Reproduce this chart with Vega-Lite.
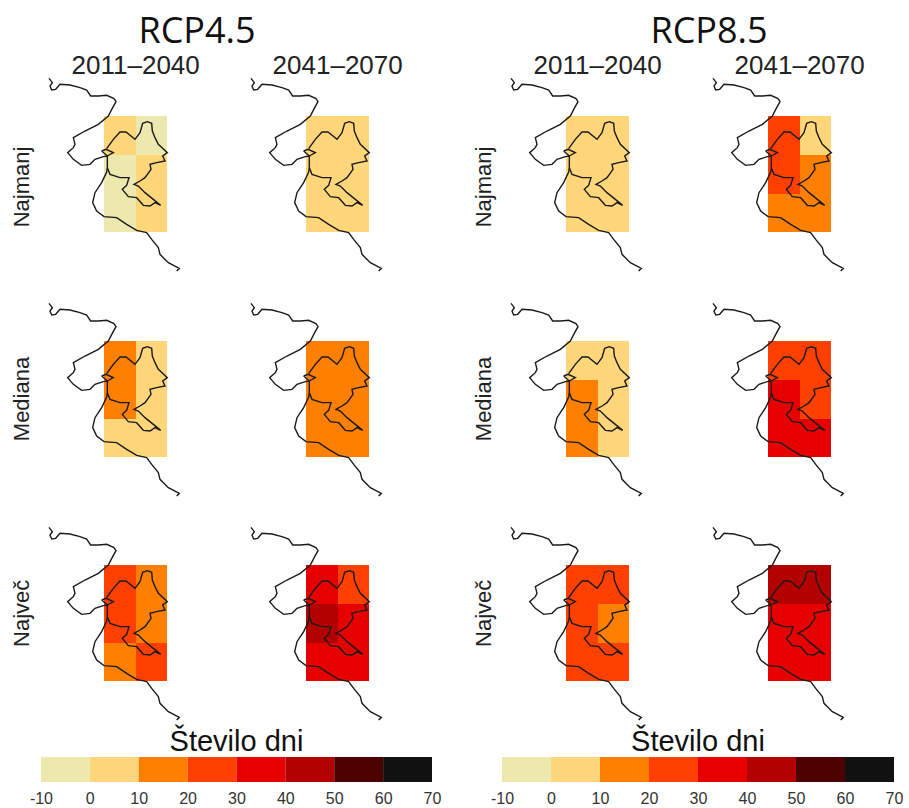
{"$schema":"https://vega.github.io/schema/vega-lite/v6.json","padding":{"left":8,"top":10,"right":0,"bottom":0},"background":"white","config":{"view":{"stroke":null}},"spacing":5,
"datasets":{
"cells":[
{"p":1,"x":312,"x2":408,"y":350,"y2":467,"days":5},{"p":1,"x":408,"x2":501,"y":350,"y2":467,"days":-5},{"p":1,"x":312,"x2":408,"y":467,"y2":584,"days":-5},{"p":1,"x":408,"x2":501,"y":467,"y2":584,"days":5},{"p":1,"x":312,"x2":408,"y":584,"y2":698,"days":-5},{"p":1,"x":408,"x2":501,"y":584,"y2":698,"days":5},
{"p":2,"x":312,"x2":408,"y":350,"y2":467,"days":5},{"p":2,"x":408,"x2":501,"y":350,"y2":467,"days":5},{"p":2,"x":312,"x2":408,"y":467,"y2":584,"days":5},{"p":2,"x":408,"x2":501,"y":467,"y2":584,"days":5},{"p":2,"x":312,"x2":408,"y":584,"y2":698,"days":5},{"p":2,"x":408,"x2":501,"y":584,"y2":698,"days":5},
{"p":3,"x":312,"x2":408,"y":350,"y2":467,"days":5},{"p":3,"x":408,"x2":501,"y":350,"y2":467,"days":5},{"p":3,"x":312,"x2":408,"y":467,"y2":584,"days":5},{"p":3,"x":408,"x2":501,"y":467,"y2":584,"days":5},{"p":3,"x":312,"x2":408,"y":584,"y2":698,"days":5},{"p":3,"x":408,"x2":501,"y":584,"y2":698,"days":5},
{"p":4,"x":312,"x2":408,"y":350,"y2":467,"days":25},{"p":4,"x":408,"x2":501,"y":350,"y2":467,"days":5},{"p":4,"x":312,"x2":408,"y":467,"y2":584,"days":25},{"p":4,"x":408,"x2":501,"y":467,"y2":584,"days":15},{"p":4,"x":312,"x2":408,"y":584,"y2":698,"days":15},{"p":4,"x":408,"x2":501,"y":584,"y2":698,"days":15},
{"p":5,"x":312,"x2":408,"y":350,"y2":467,"days":15},{"p":5,"x":408,"x2":501,"y":350,"y2":467,"days":5},{"p":5,"x":312,"x2":408,"y":467,"y2":584,"days":15},{"p":5,"x":408,"x2":501,"y":467,"y2":584,"days":5},{"p":5,"x":312,"x2":408,"y":584,"y2":698,"days":5},{"p":5,"x":408,"x2":501,"y":584,"y2":698,"days":5},
{"p":6,"x":312,"x2":408,"y":350,"y2":467,"days":15},{"p":6,"x":408,"x2":501,"y":350,"y2":467,"days":15},{"p":6,"x":312,"x2":408,"y":467,"y2":584,"days":15},{"p":6,"x":408,"x2":501,"y":467,"y2":584,"days":15},{"p":6,"x":312,"x2":408,"y":584,"y2":698,"days":15},{"p":6,"x":408,"x2":501,"y":584,"y2":698,"days":15},
{"p":7,"x":312,"x2":408,"y":350,"y2":467,"days":5},{"p":7,"x":408,"x2":501,"y":350,"y2":467,"days":5},{"p":7,"x":312,"x2":408,"y":467,"y2":584,"days":15},{"p":7,"x":408,"x2":501,"y":467,"y2":584,"days":5},{"p":7,"x":312,"x2":408,"y":584,"y2":698,"days":15},{"p":7,"x":408,"x2":501,"y":584,"y2":698,"days":5},
{"p":8,"x":312,"x2":408,"y":350,"y2":467,"days":25},{"p":8,"x":408,"x2":501,"y":350,"y2":467,"days":25},{"p":8,"x":312,"x2":408,"y":467,"y2":584,"days":35},{"p":8,"x":408,"x2":501,"y":467,"y2":584,"days":25},{"p":8,"x":312,"x2":408,"y":584,"y2":698,"days":35},{"p":8,"x":408,"x2":501,"y":584,"y2":698,"days":35},
{"p":9,"x":312,"x2":408,"y":350,"y2":467,"days":25},{"p":9,"x":408,"x2":501,"y":350,"y2":467,"days":15},{"p":9,"x":312,"x2":408,"y":467,"y2":584,"days":25},{"p":9,"x":408,"x2":501,"y":467,"y2":584,"days":15},{"p":9,"x":312,"x2":408,"y":584,"y2":698,"days":15},{"p":9,"x":408,"x2":501,"y":584,"y2":698,"days":25},
{"p":10,"x":312,"x2":408,"y":350,"y2":467,"days":35},{"p":10,"x":408,"x2":501,"y":350,"y2":467,"days":25},{"p":10,"x":312,"x2":408,"y":467,"y2":584,"days":45},{"p":10,"x":408,"x2":501,"y":467,"y2":584,"days":35},{"p":10,"x":312,"x2":408,"y":584,"y2":698,"days":35},{"p":10,"x":408,"x2":501,"y":584,"y2":698,"days":35},
{"p":11,"x":312,"x2":408,"y":350,"y2":467,"days":25},{"p":11,"x":408,"x2":501,"y":350,"y2":467,"days":25},{"p":11,"x":312,"x2":408,"y":467,"y2":584,"days":25},{"p":11,"x":408,"x2":501,"y":467,"y2":584,"days":15},{"p":11,"x":312,"x2":408,"y":584,"y2":698,"days":25},{"p":11,"x":408,"x2":501,"y":584,"y2":698,"days":25},
{"p":12,"x":312,"x2":408,"y":350,"y2":467,"days":45},{"p":12,"x":408,"x2":501,"y":350,"y2":467,"days":45},{"p":12,"x":312,"x2":408,"y":467,"y2":584,"days":35},{"p":12,"x":408,"x2":501,"y":467,"y2":584,"days":35},{"p":12,"x":312,"x2":408,"y":584,"y2":698,"days":35},{"p":12,"x":408,"x2":501,"y":584,"y2":698,"days":35}
],
"outline":[
{"part":"coast","seq":1,"x":147,"y":237},{"part":"coast","seq":2,"x":157,"y":250},{"part":"coast","seq":3,"x":150,"y":260},{"part":"coast","seq":4,"x":155,"y":272},{"part":"coast","seq":5,"x":167,"y":270},{"part":"coast","seq":6,"x":180,"y":255},{"part":"coast","seq":7,"x":210,"y":257},{"part":"coast","seq":8,"x":240,"y":265},{"part":"coast","seq":9,"x":260,"y":272},{"part":"coast","seq":10,"x":272,"y":290},{"part":"coast","seq":11,"x":295,"y":290},{"part":"coast","seq":12,"x":320,"y":288},{"part":"coast","seq":13,"x":342,"y":298},{"part":"coast","seq":14,"x":348,"y":307},{"part":"coast","seq":15,"x":338,"y":325},{"part":"coast","seq":16,"x":325,"y":350},{"part":"coast","seq":17,"x":295,"y":375},{"part":"coast","seq":18,"x":255,"y":395},{"part":"coast","seq":19,"x":220,"y":415},{"part":"coast","seq":20,"x":225,"y":435},{"part":"coast","seq":21,"x":220,"y":445},{"part":"coast","seq":22,"x":203,"y":460},{"part":"coast","seq":23,"x":220,"y":480},{"part":"coast","seq":24,"x":245,"y":498},{"part":"coast","seq":25,"x":270,"y":495},{"part":"coast","seq":26,"x":285,"y":480},{"part":"coast","seq":27,"x":310,"y":472},{"part":"coast","seq":28,"x":322,"y":470},{"part":"coast","seq":29,"x":322,"y":505},{"part":"coast","seq":30,"x":320,"y":518},{"part":"coast","seq":31,"x":305,"y":550},{"part":"coast","seq":32,"x":285,"y":580},{"part":"coast","seq":33,"x":278,"y":610},{"part":"coast","seq":34,"x":290,"y":635},{"part":"coast","seq":35,"x":312,"y":652},{"part":"coast","seq":36,"x":350,"y":655},{"part":"coast","seq":37,"x":380,"y":675},{"part":"coast","seq":38,"x":410,"y":693},{"part":"coast","seq":39,"x":440,"y":700},{"part":"coast","seq":40,"x":455,"y":720},{"part":"coast","seq":41,"x":475,"y":745},{"part":"coast","seq":42,"x":480,"y":765},{"part":"coast","seq":43,"x":505,"y":790},{"part":"coast","seq":44,"x":538,"y":807},{"part":"coast","seq":45,"x":530,"y":815},
{"part":"border","seq":1,"x":320,"y":448},{"part":"border","seq":2,"x":340,"y":420},{"part":"border","seq":3,"x":360,"y":398},{"part":"border","seq":4,"x":378,"y":398},{"part":"border","seq":5,"x":405,"y":420},{"part":"border","seq":6,"x":420,"y":400},{"part":"border","seq":7,"x":428,"y":372},{"part":"border","seq":8,"x":442,"y":367},{"part":"border","seq":9,"x":455,"y":372},{"part":"border","seq":10,"x":457,"y":395},{"part":"border","seq":11,"x":465,"y":415},{"part":"border","seq":12,"x":475,"y":435},{"part":"border","seq":13,"x":502,"y":460},{"part":"border","seq":14,"x":488,"y":470},{"part":"border","seq":15,"x":495,"y":485},{"part":"border","seq":16,"x":470,"y":490},{"part":"border","seq":17,"x":450,"y":495},{"part":"border","seq":18,"x":453,"y":510},{"part":"border","seq":19,"x":435,"y":535},{"part":"border","seq":20,"x":420,"y":545},{"part":"border","seq":21,"x":402,"y":555},{"part":"border","seq":22,"x":415,"y":560},{"part":"border","seq":23,"x":435,"y":580},{"part":"border","seq":24,"x":460,"y":600},{"part":"border","seq":25,"x":482,"y":618},{"part":"border","seq":26,"x":465,"y":610},{"part":"border","seq":27,"x":450,"y":620},{"part":"border","seq":28,"x":430,"y":618},{"part":"border","seq":29,"x":410,"y":595},{"part":"border","seq":30,"x":385,"y":592},{"part":"border","seq":31,"x":367,"y":570},{"part":"border","seq":32,"x":380,"y":558},{"part":"border","seq":33,"x":387,"y":535},{"part":"border","seq":34,"x":360,"y":535},{"part":"border","seq":35,"x":330,"y":525},{"part":"border","seq":36,"x":322,"y":505},
{"part":"inlet","seq":1,"x":305,"y":455},{"part":"inlet","seq":2,"x":318,"y":450},{"part":"inlet","seq":3,"x":340,"y":460},{"part":"inlet","seq":4,"x":322,"y":470},{"part":"inlet","seq":5,"x":305,"y":455}
],
"texts":[
{"p":1,"kind":"row","label":"Najmanj","x":66,"y":563},{"p":3,"kind":"row","label":"Najmanj","x":66,"y":563},
{"p":5,"kind":"row","label":"Mediana","x":66,"y":524},{"p":7,"kind":"row","label":"Mediana","x":66,"y":524},
{"p":9,"kind":"row","label":"Največ","x":66,"y":495},{"p":11,"kind":"row","label":"Največ","x":66,"y":495},
{"p":1,"kind":"period","label":"2011–2040","x":407,"y":200},{"p":2,"kind":"period","label":"2041–2070","x":407,"y":200},{"p":3,"kind":"period","label":"2011–2040","x":407,"y":200},{"p":4,"kind":"period","label":"2041–2070","x":407,"y":200},
{"p":1,"kind":"scenario","label":"RCP4.5","x":591,"y":98},{"p":3,"kind":"scenario","label":"RCP8.5","x":741,"y":98}
],
"bins":[{"from":-10,"to":0},{"from":0,"to":10},{"from":10,"to":20},{"from":20,"to":30},{"from":30,"to":40},{"from":40,"to":50},{"from":50,"to":60},{"from":60,"to":70}],
"legendTitle":[{"label":"Število dni","value":30,"level":1.6}]
},
"vconcat":[
{"columns":4,"align":"each","bounds":"flush","spacing":{"row":0,"column":6},"concat":[
{"width":196,"height":262,"encoding":{"x":{"field":"x","type":"quantitative","axis":null,"scale":{"domain":[24,612],"nice":false,"zero":false}},"y":{"field":"y","type":"quantitative","axis":null,"scale":{"domain":[32,818],"reverse":true,"nice":false,"zero":false}}},"layer":[
{"data":{"name":"cells"},"transform":[{"filter":"datum.p==1"}],"mark":"rect","encoding":{"x2":{"field":"x2"},"y2":{"field":"y2"},"color":{"field":"days","type":"quantitative","legend":null,"scale":{"type":"threshold","domain":[0,10,20,30,40,50,60],"range":["#EDE8AD","#FFD67A","#FF8000","#FF4000","#E60000","#B30000","#4D0000","#111111"]}}}},
{"data":{"name":"outline"},"mark":{"type":"line","color":"#1a1a1a","strokeWidth":1.4},"encoding":{"detail":{"field":"part"},"order":{"field":"seq","type":"quantitative"}}},
{"data":{"name":"texts"},"transform":[{"filter":"datum.p==1&&datum.kind=='row'"}],"mark":{"type":"text","angle":270,"font":"Liberation Sans","fontSize":22,"color":"#222"},"encoding":{"text":{"field":"label"}}},
{"data":{"name":"texts"},"transform":[{"filter":"datum.p==1&&datum.kind=='period'"}],"mark":{"type":"text","font":"Liberation Sans","fontSize":26,"color":"#222"},"encoding":{"text":{"field":"label"}}},
{"data":{"name":"texts"},"transform":[{"filter":"datum.p==1&&datum.kind=='scenario'"}],"mark":{"type":"text","font":"Open Sans","fontSize":36,"color":"#111"},"encoding":{"text":{"field":"label"}}}
]},
{"width":196,"height":262,"encoding":{"x":{"field":"x","type":"quantitative","axis":null,"scale":{"domain":[24,612],"nice":false,"zero":false}},"y":{"field":"y","type":"quantitative","axis":null,"scale":{"domain":[32,818],"reverse":true,"nice":false,"zero":false}}},"layer":[
{"data":{"name":"cells"},"transform":[{"filter":"datum.p==2"}],"mark":"rect","encoding":{"x2":{"field":"x2"},"y2":{"field":"y2"},"color":{"field":"days","type":"quantitative","legend":null,"scale":{"type":"threshold","domain":[0,10,20,30,40,50,60],"range":["#EDE8AD","#FFD67A","#FF8000","#FF4000","#E60000","#B30000","#4D0000","#111111"]}}}},
{"data":{"name":"outline"},"mark":{"type":"line","color":"#1a1a1a","strokeWidth":1.4},"encoding":{"detail":{"field":"part"},"order":{"field":"seq","type":"quantitative"}}},
{"data":{"name":"texts"},"transform":[{"filter":"datum.p==2&&datum.kind=='period'"}],"mark":{"type":"text","font":"Liberation Sans","fontSize":26,"color":"#222"},"encoding":{"text":{"field":"label"}}}
]},
{"width":254,"height":262,"encoding":{"x":{"field":"x","type":"quantitative","axis":null,"scale":{"domain":[-150,612],"nice":false,"zero":false}},"y":{"field":"y","type":"quantitative","axis":null,"scale":{"domain":[32,818],"reverse":true,"nice":false,"zero":false}}},"layer":[
{"data":{"name":"cells"},"transform":[{"filter":"datum.p==3"}],"mark":"rect","encoding":{"x2":{"field":"x2"},"y2":{"field":"y2"},"color":{"field":"days","type":"quantitative","legend":null,"scale":{"type":"threshold","domain":[0,10,20,30,40,50,60],"range":["#EDE8AD","#FFD67A","#FF8000","#FF4000","#E60000","#B30000","#4D0000","#111111"]}}}},
{"data":{"name":"outline"},"mark":{"type":"line","color":"#1a1a1a","strokeWidth":1.4},"encoding":{"detail":{"field":"part"},"order":{"field":"seq","type":"quantitative"}}},
{"data":{"name":"texts"},"transform":[{"filter":"datum.p==3&&datum.kind=='row'"}],"mark":{"type":"text","angle":270,"font":"Liberation Sans","fontSize":22,"color":"#222"},"encoding":{"text":{"field":"label"}}},
{"data":{"name":"texts"},"transform":[{"filter":"datum.p==3&&datum.kind=='period'"}],"mark":{"type":"text","font":"Liberation Sans","fontSize":26,"color":"#222"},"encoding":{"text":{"field":"label"}}},
{"data":{"name":"texts"},"transform":[{"filter":"datum.p==3&&datum.kind=='scenario'"}],"mark":{"type":"text","font":"Open Sans","fontSize":36,"color":"#111"},"encoding":{"text":{"field":"label"}}}
]},
{"width":196,"height":262,"encoding":{"x":{"field":"x","type":"quantitative","axis":null,"scale":{"domain":[24,612],"nice":false,"zero":false}},"y":{"field":"y","type":"quantitative","axis":null,"scale":{"domain":[32,818],"reverse":true,"nice":false,"zero":false}}},"layer":[
{"data":{"name":"cells"},"transform":[{"filter":"datum.p==4"}],"mark":"rect","encoding":{"x2":{"field":"x2"},"y2":{"field":"y2"},"color":{"field":"days","type":"quantitative","legend":null,"scale":{"type":"threshold","domain":[0,10,20,30,40,50,60],"range":["#EDE8AD","#FFD67A","#FF8000","#FF4000","#E60000","#B30000","#4D0000","#111111"]}}}},
{"data":{"name":"outline"},"mark":{"type":"line","color":"#1a1a1a","strokeWidth":1.4},"encoding":{"detail":{"field":"part"},"order":{"field":"seq","type":"quantitative"}}},
{"data":{"name":"texts"},"transform":[{"filter":"datum.p==4&&datum.kind=='period'"}],"mark":{"type":"text","font":"Liberation Sans","fontSize":26,"color":"#222"},"encoding":{"text":{"field":"label"}}}
]},
{"width":196,"height":225,"encoding":{"x":{"field":"x","type":"quantitative","axis":null,"scale":{"domain":[24,612],"nice":false,"zero":false}},"y":{"field":"y","type":"quantitative","axis":null,"scale":{"domain":[143,818],"reverse":true,"nice":false,"zero":false}}},"layer":[
{"data":{"name":"cells"},"transform":[{"filter":"datum.p==5"}],"mark":"rect","encoding":{"x2":{"field":"x2"},"y2":{"field":"y2"},"color":{"field":"days","type":"quantitative","legend":null,"scale":{"type":"threshold","domain":[0,10,20,30,40,50,60],"range":["#EDE8AD","#FFD67A","#FF8000","#FF4000","#E60000","#B30000","#4D0000","#111111"]}}}},
{"data":{"name":"outline"},"mark":{"type":"line","color":"#1a1a1a","strokeWidth":1.4},"encoding":{"detail":{"field":"part"},"order":{"field":"seq","type":"quantitative"}}},
{"data":{"name":"texts"},"transform":[{"filter":"datum.p==5&&datum.kind=='row'"}],"mark":{"type":"text","angle":270,"font":"Liberation Sans","fontSize":22,"color":"#222"},"encoding":{"text":{"field":"label"}}}
]},
{"width":196,"height":225,"encoding":{"x":{"field":"x","type":"quantitative","axis":null,"scale":{"domain":[24,612],"nice":false,"zero":false}},"y":{"field":"y","type":"quantitative","axis":null,"scale":{"domain":[143,818],"reverse":true,"nice":false,"zero":false}}},"layer":[
{"data":{"name":"cells"},"transform":[{"filter":"datum.p==6"}],"mark":"rect","encoding":{"x2":{"field":"x2"},"y2":{"field":"y2"},"color":{"field":"days","type":"quantitative","legend":null,"scale":{"type":"threshold","domain":[0,10,20,30,40,50,60],"range":["#EDE8AD","#FFD67A","#FF8000","#FF4000","#E60000","#B30000","#4D0000","#111111"]}}}},
{"data":{"name":"outline"},"mark":{"type":"line","color":"#1a1a1a","strokeWidth":1.4},"encoding":{"detail":{"field":"part"},"order":{"field":"seq","type":"quantitative"}}}
]},
{"width":254,"height":225,"encoding":{"x":{"field":"x","type":"quantitative","axis":null,"scale":{"domain":[-150,612],"nice":false,"zero":false}},"y":{"field":"y","type":"quantitative","axis":null,"scale":{"domain":[143,818],"reverse":true,"nice":false,"zero":false}}},"layer":[
{"data":{"name":"cells"},"transform":[{"filter":"datum.p==7"}],"mark":"rect","encoding":{"x2":{"field":"x2"},"y2":{"field":"y2"},"color":{"field":"days","type":"quantitative","legend":null,"scale":{"type":"threshold","domain":[0,10,20,30,40,50,60],"range":["#EDE8AD","#FFD67A","#FF8000","#FF4000","#E60000","#B30000","#4D0000","#111111"]}}}},
{"data":{"name":"outline"},"mark":{"type":"line","color":"#1a1a1a","strokeWidth":1.4},"encoding":{"detail":{"field":"part"},"order":{"field":"seq","type":"quantitative"}}},
{"data":{"name":"texts"},"transform":[{"filter":"datum.p==7&&datum.kind=='row'"}],"mark":{"type":"text","angle":270,"font":"Liberation Sans","fontSize":22,"color":"#222"},"encoding":{"text":{"field":"label"}}}
]},
{"width":196,"height":225,"encoding":{"x":{"field":"x","type":"quantitative","axis":null,"scale":{"domain":[24,612],"nice":false,"zero":false}},"y":{"field":"y","type":"quantitative","axis":null,"scale":{"domain":[143,818],"reverse":true,"nice":false,"zero":false}}},"layer":[
{"data":{"name":"cells"},"transform":[{"filter":"datum.p==8"}],"mark":"rect","encoding":{"x2":{"field":"x2"},"y2":{"field":"y2"},"color":{"field":"days","type":"quantitative","legend":null,"scale":{"type":"threshold","domain":[0,10,20,30,40,50,60],"range":["#EDE8AD","#FFD67A","#FF8000","#FF4000","#E60000","#B30000","#4D0000","#111111"]}}}},
{"data":{"name":"outline"},"mark":{"type":"line","color":"#1a1a1a","strokeWidth":1.4},"encoding":{"detail":{"field":"part"},"order":{"field":"seq","type":"quantitative"}}}
]},
{"width":196,"height":224,"encoding":{"x":{"field":"x","type":"quantitative","axis":null,"scale":{"domain":[24,612],"nice":false,"zero":false}},"y":{"field":"y","type":"quantitative","axis":null,"scale":{"domain":[146,818],"reverse":true,"nice":false,"zero":false}}},"layer":[
{"data":{"name":"cells"},"transform":[{"filter":"datum.p==9"}],"mark":"rect","encoding":{"x2":{"field":"x2"},"y2":{"field":"y2"},"color":{"field":"days","type":"quantitative","legend":null,"scale":{"type":"threshold","domain":[0,10,20,30,40,50,60],"range":["#EDE8AD","#FFD67A","#FF8000","#FF4000","#E60000","#B30000","#4D0000","#111111"]}}}},
{"data":{"name":"outline"},"mark":{"type":"line","color":"#1a1a1a","strokeWidth":1.4},"encoding":{"detail":{"field":"part"},"order":{"field":"seq","type":"quantitative"}}},
{"data":{"name":"texts"},"transform":[{"filter":"datum.p==9&&datum.kind=='row'"}],"mark":{"type":"text","angle":270,"font":"Liberation Sans","fontSize":22,"color":"#222"},"encoding":{"text":{"field":"label"}}}
]},
{"width":196,"height":224,"encoding":{"x":{"field":"x","type":"quantitative","axis":null,"scale":{"domain":[24,612],"nice":false,"zero":false}},"y":{"field":"y","type":"quantitative","axis":null,"scale":{"domain":[146,818],"reverse":true,"nice":false,"zero":false}}},"layer":[
{"data":{"name":"cells"},"transform":[{"filter":"datum.p==10"}],"mark":"rect","encoding":{"x2":{"field":"x2"},"y2":{"field":"y2"},"color":{"field":"days","type":"quantitative","legend":null,"scale":{"type":"threshold","domain":[0,10,20,30,40,50,60],"range":["#EDE8AD","#FFD67A","#FF8000","#FF4000","#E60000","#B30000","#4D0000","#111111"]}}}},
{"data":{"name":"outline"},"mark":{"type":"line","color":"#1a1a1a","strokeWidth":1.4},"encoding":{"detail":{"field":"part"},"order":{"field":"seq","type":"quantitative"}}}
]},
{"width":254,"height":224,"encoding":{"x":{"field":"x","type":"quantitative","axis":null,"scale":{"domain":[-150,612],"nice":false,"zero":false}},"y":{"field":"y","type":"quantitative","axis":null,"scale":{"domain":[146,818],"reverse":true,"nice":false,"zero":false}}},"layer":[
{"data":{"name":"cells"},"transform":[{"filter":"datum.p==11"}],"mark":"rect","encoding":{"x2":{"field":"x2"},"y2":{"field":"y2"},"color":{"field":"days","type":"quantitative","legend":null,"scale":{"type":"threshold","domain":[0,10,20,30,40,50,60],"range":["#EDE8AD","#FFD67A","#FF8000","#FF4000","#E60000","#B30000","#4D0000","#111111"]}}}},
{"data":{"name":"outline"},"mark":{"type":"line","color":"#1a1a1a","strokeWidth":1.4},"encoding":{"detail":{"field":"part"},"order":{"field":"seq","type":"quantitative"}}},
{"data":{"name":"texts"},"transform":[{"filter":"datum.p==11&&datum.kind=='row'"}],"mark":{"type":"text","angle":270,"font":"Liberation Sans","fontSize":22,"color":"#222"},"encoding":{"text":{"field":"label"}}}
]},
{"width":196,"height":224,"encoding":{"x":{"field":"x","type":"quantitative","axis":null,"scale":{"domain":[24,612],"nice":false,"zero":false}},"y":{"field":"y","type":"quantitative","axis":null,"scale":{"domain":[146,818],"reverse":true,"nice":false,"zero":false}}},"layer":[
{"data":{"name":"cells"},"transform":[{"filter":"datum.p==12"}],"mark":"rect","encoding":{"x2":{"field":"x2"},"y2":{"field":"y2"},"color":{"field":"days","type":"quantitative","legend":null,"scale":{"type":"threshold","domain":[0,10,20,30,40,50,60],"range":["#EDE8AD","#FFD67A","#FF8000","#FF4000","#E60000","#B30000","#4D0000","#111111"]}}}},
{"data":{"name":"outline"},"mark":{"type":"line","color":"#1a1a1a","strokeWidth":1.4},"encoding":{"detail":{"field":"part"},"order":{"field":"seq","type":"quantitative"}}}
]}
]},
{"bounds":"flush","spacing":70,"hconcat":[
{"width":424,"height":25,"layer":[
{"data":{"name":"bins"},"mark":"rect","encoding":{"x":{"field":"from","type":"quantitative","scale":{"domain":[-16.74,70],"nice":false,"zero":false},"axis":{"values":[-10,0,10,20,30,40,50,60,70],"title":null,"grid":false,"domain":false,"ticks":false,"labelFont":"Liberation Sans","labelFontSize":16,"labelColor":"#333","labelPadding":8,"labelFlush":false,"labelOverlap":false,"labelExpr":"toString(datum.value)"}},"x2":{"field":"to"},"color":{"field":"from","type":"quantitative","legend":null,"scale":{"type":"threshold","domain":[0,10,20,30,40,50,60],"range":["#EDE8AD","#FFD67A","#FF8000","#FF4000","#E60000","#B30000","#4D0000","#111111"]}}}},
{"data":{"name":"legendTitle"},"mark":{"type":"text","font":"Liberation Sans","fontSize":29,"color":"#111"},"encoding":{"x":{"field":"value","type":"quantitative"},"y":{"field":"level","type":"quantitative","axis":null,"scale":{"domain":[0,1],"nice":false,"zero":false}},"text":{"field":"label"}}}
]},
{"width":392,"height":25,"layer":[
{"data":{"name":"bins"},"mark":"rect","encoding":{"x":{"field":"from","type":"quantitative","scale":{"domain":[-10,70],"nice":false,"zero":false},"axis":{"values":[-10,0,10,20,30,40,50,60,70],"title":null,"grid":false,"domain":false,"ticks":false,"labelFont":"Liberation Sans","labelFontSize":16,"labelColor":"#333","labelPadding":8,"labelFlush":false,"labelOverlap":false,"labelExpr":"toString(datum.value)"}},"x2":{"field":"to"},"color":{"field":"from","type":"quantitative","legend":null,"scale":{"type":"threshold","domain":[0,10,20,30,40,50,60],"range":["#EDE8AD","#FFD67A","#FF8000","#FF4000","#E60000","#B30000","#4D0000","#111111"]}}}},
{"data":{"name":"legendTitle"},"mark":{"type":"text","font":"Liberation Sans","fontSize":29,"color":"#111"},"encoding":{"x":{"field":"value","type":"quantitative"},"y":{"field":"level","type":"quantitative","axis":null,"scale":{"domain":[0,1],"nice":false,"zero":false}},"text":{"field":"label"}}}
]}
]}
]}
